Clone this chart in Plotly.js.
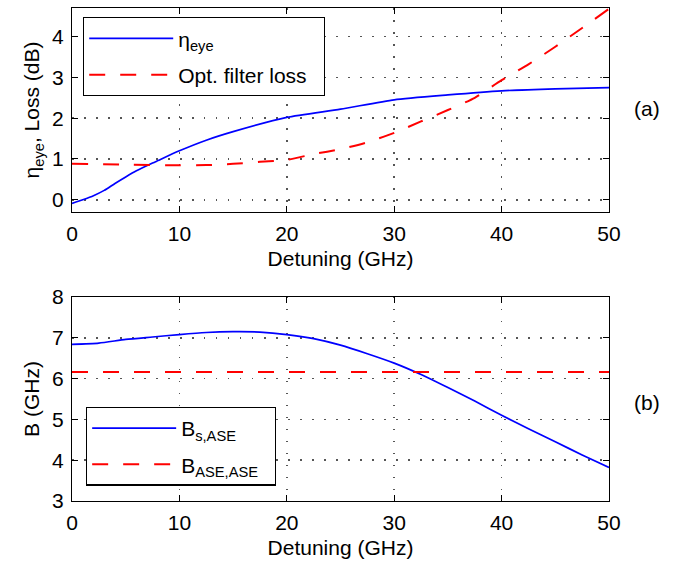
<!DOCTYPE html>
<html>
<head>
<meta charset="utf-8">
<script src="https://cdn.plot.ly/plotly-3.0.1.min.js"></script>
<style>html,body{margin:0;padding:0;background:#fff;}#chart{width:673px;height:563px;}</style>
</head>
<body>
<div id="chart"></div>
<script>
// ---- data ----
const detuningEta = [0, 1, 2, 3, 4, 5, 6, 7.5, 8, 10, 12.5, 15, 20, 25, 30, 35, 40, 45, 50];
const etaEye      = [-0.09, 0.0, 0.1, 0.23, 0.4, 0.56, 0.71, 0.9, 0.96, 1.2, 1.46, 1.67, 2.02, 2.22, 2.45, 2.57, 2.67, 2.72, 2.75];

const detuningLoss = [0, 5, 10, 12.5, 15, 17.5, 20, 22.5, 25, 27.5, 30, 32.5, 35, 37.5, 40, 42.5, 45, 47.5, 50];
const filterLoss   = [0.885, 0.86, 0.845, 0.85, 0.88, 0.93, 0.98, 1.12, 1.24, 1.41, 1.64, 1.92, 2.2, 2.5, 2.93, 3.32, 3.75, 4.21, 4.68];

const detuningB = [0, 2.5, 5, 7.5, 10, 12.5, 15, 17.5, 20, 22.5, 25, 27.5, 30, 32.5, 35, 37.5, 40, 42.5, 45, 47.5, 50];
const bSASE     = [6.84, 6.87, 6.96, 7.02, 7.08, 7.13, 7.15, 7.14, 7.08, 6.98, 6.82, 6.61, 6.38, 6.1, 5.78, 5.45, 5.1, 4.77, 4.45, 4.13, 3.82];

const detuningBase = [0, 50];
const bASEASE      = [6.16, 6.16];

const xTicks  = [0, 10, 20, 30, 40, 50];
const yTicksA = [0, 1, 2, 3, 4];
const yTicksB = [3, 4, 5, 6, 7, 8];

const names = {
  eta: 'η<sub>eye</sub>',
  loss: 'Opt. filter loss&nbsp;&nbsp;',
  bs: 'B<sub>s,ASE</sub>',
  bb: 'B<sub>ASE,ASE</sub>&nbsp;&nbsp;'
};

// ---- styling ----
const FONT = 'Liberation Sans, Arial, Helvetica, sans-serif';
const FS = 21;
const BLUE = '#0000ff', RED = '#ff0000';
const DASH = '16px,15px';

const traces = [
  {x: detuningEta, y: etaEye, name: names.eta, type: 'scatter', mode: 'lines',
   line: {color: BLUE, width: 1.7, shape: 'spline', smoothing: 0.6}, xaxis: 'x', yaxis: 'y', legend: 'legend', legendgroup: 'a1'},
  {x: detuningLoss, y: filterLoss, name: names.loss, type: 'scatter', mode: 'lines',
   line: {color: RED, width: 2, dash: DASH, shape: 'spline', smoothing: 0.6}, xaxis: 'x', yaxis: 'y', legend: 'legend', legendgroup: 'a2'},
  {x: detuningB, y: bSASE, name: names.bs, type: 'scatter', mode: 'lines',
   line: {color: BLUE, width: 1.7, shape: 'spline', smoothing: 0.6}, xaxis: 'x2', yaxis: 'y2', legend: 'legend2', legendgroup: 'b1'},
  {x: detuningBase, y: bASEASE, name: names.bb, type: 'scatter', mode: 'lines',
   line: {color: RED, width: 2, dash: DASH}, xaxis: 'x2', yaxis: 'y2', legend: 'legend2', legendgroup: 'b2'}
];

function xAxis(anchor, domain) {
  return {
    anchor: anchor, domain: domain, range: [0, 50], tickmode: 'array', tickvals: xTicks,
    ticks: 'inside', ticklen: 6, tickwidth: 1, tickcolor: '#000', mirror: 'ticks',
    showline: true, linecolor: '#000', linewidth: 1.2, zeroline: false,
    showgrid: true, gridcolor: '#555', gridwidth: 1.5, griddash: '1.5px,10.5px',
    tickfont: {family: FONT, size: FS, color: '#000'}, ticklabelstandoff: 3,
    title: {text: 'Detuning (GHz)', font: {family: FONT, size: FS, color: '#000'}, standoff: 6}
  };
}
function yAxis(anchor, domain, range, ticks, title) {
  return {
    anchor: anchor, domain: domain, range: range, tickmode: 'array', tickvals: ticks,
    ticks: 'inside', ticklen: 6, tickwidth: 1, tickcolor: '#000', mirror: 'ticks',
    showline: true, linecolor: '#000', linewidth: 1.2, zeroline: false,
    showgrid: true, gridcolor: '#555', gridwidth: 1.5, griddash: '1.5px,10.5px',
    tickfont: {family: FONT, size: FS, color: '#000'}, ticklabelstandoff: 3,
    title: {text: title, font: {family: FONT, size: FS, color: '#000'}, standoff: 6}
  };
}

const layout = {
  width: 673, height: 563,
  margin: {l: 72, r: 64, t: 8, b: 62},
  paper_bgcolor: '#fff', plot_bgcolor: '#fff',
  font: {family: FONT, size: FS, color: '#000'},
  xaxis: xAxis('y', [0, 1]),
  yaxis: yAxis('x', [0.5862, 1], [-0.3, 4.7], yTicksA, 'η<sub>eye</sub>, Loss (dB)'),
  xaxis2: xAxis('y2', [0, 1]),
  yaxis2: yAxis('x2', [0, 0.4138], [3, 8], yTicksB, 'B (GHz)'),
  legend: {
    x: 0.0205, y: 0.9817, xanchor: 'left', yanchor: 'top',
    bgcolor: '#fff', bordercolor: '#000', borderwidth: 1.2,
    font: {family: FONT, size: FS, color: '#000'},
    traceorder: 'grouped', tracegroupgap: 6, itemwidth: 84
  },
  legend2: {
    x: 0.026, y: 0.1913, xanchor: 'left', yanchor: 'top',
    bgcolor: '#fff', bordercolor: '#000', borderwidth: 1.2,
    font: {family: FONT, size: FS, color: '#000'},
    traceorder: 'grouped', tracegroupgap: 6, itemwidth: 84
  },
  showlegend: true,
  annotations: [
    {text: '(a)', xref: 'paper', yref: 'paper', x: 1.0707, y: 0.797, showarrow: false,
     xanchor: 'center', yanchor: 'middle', font: {family: FONT, size: FS, color: '#000'}},
    {text: '(b)', xref: 'paper', yref: 'paper', x: 1.0707, y: 0.1988, showarrow: false,
     xanchor: 'center', yanchor: 'middle', font: {family: FONT, size: FS, color: '#000'}}
  ]
};

Plotly.newPlot('chart', traces, layout, {displayModeBar: false, staticPlot: true});
</script>
</body>
</html>
